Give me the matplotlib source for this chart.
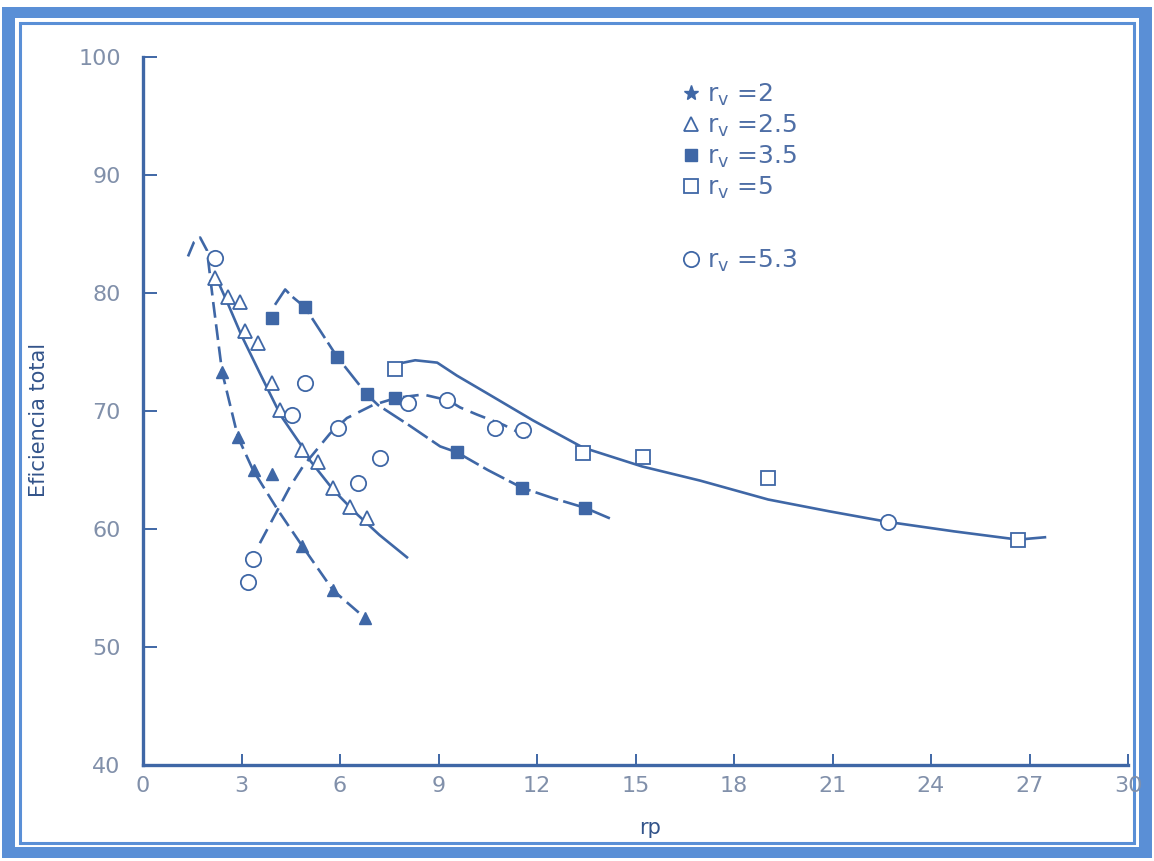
import matplotlib
matplotlib.use("Agg")
import matplotlib.pyplot as plt
from matplotlib.lines import Line2D
from matplotlib.patches import Rectangle

# values
rv2_x = [2.41, 2.89, 3.38, 3.93, 4.84, 5.79, 6.76]
rv2_y = [73.3, 67.8, 65.0, 64.7, 58.6, 54.8, 52.5]
rv2_curve_x = [1.37, 1.55, 1.74, 1.95, 2.13, 2.41, 2.89, 3.35, 3.66, 4.11, 4.84, 5.79, 6.91]
rv2_curve_y = [83.1, 84.3, 84.7, 83.6, 79.4, 73.3, 67.8, 65.0, 63.6, 61.6, 58.6, 54.8, 52.1]

rv25_x = [2.2, 2.6, 2.95, 3.1, 3.5, 3.93, 4.17, 4.84, 5.33, 5.79, 6.3, 6.82]
rv25_y = [81.3, 79.7, 79.2, 76.8, 75.8, 72.4, 70.1, 66.7, 65.7, 63.5, 61.9, 60.9]
rv25_curve_x = [2.2, 2.6, 3.0, 3.56, 4.2, 4.84, 5.09, 5.8, 6.5, 7.2, 8.04]
rv25_curve_y = [81.5, 79.0, 76.4, 73.2, 69.6, 67.0, 65.8, 63.3, 61.3, 59.5, 57.6]

rv35_x = [3.93, 4.93, 5.91, 6.82, 7.68, 9.56, 11.54, 13.46]
rv35_y = [77.9, 78.8, 74.6, 71.4, 71.1, 66.5, 63.5, 61.8]
rv35_curve_x = [4.02, 4.33, 4.54, 4.93, 5.91, 6.82, 7.16, 8.1, 9.05, 9.56, 10.5, 11.54, 12.5, 13.46, 14.22]
rv35_curve_y = [79.0, 80.3, 79.7, 78.8, 74.6, 71.4, 70.5, 68.8, 67.0, 66.5, 65.0, 63.5, 62.6, 61.8, 60.9]

rv5_x = [7.68, 13.4, 15.23, 19.04, 26.65]
rv5_y = [73.6, 66.4, 66.1, 64.3, 59.1]
rv5_curve_x = [7.58, 8.29, 8.96, 9.56, 10.48, 11.88, 13.4, 15.2, 16.97, 19.04, 20.9, 22.69, 24.7, 26.65, 27.47]
rv5_curve_y = [73.9, 74.3, 74.1, 73.0, 71.5, 69.2, 66.9, 65.3, 64.1, 62.5, 61.5, 60.6, 59.8, 59.1, 59.3]

rv53_x = [2.19, 3.2, 3.35, 4.54, 4.93, 5.94, 6.55, 7.22, 8.07, 9.26, 10.72, 11.57, 22.69]
rv53_y = [83.0, 55.5, 57.5, 69.7, 72.4, 68.6, 63.9, 66.0, 70.7, 70.9, 68.6, 68.4, 60.6]
rv53_curve_x = [3.56, 4.48, 4.87, 5.7, 6.21, 7.0, 7.7, 8.53, 9.3, 9.66, 10.17, 11.0, 11.79]
rv53_curve_y = [58.8, 63.6, 65.3, 68.1, 69.4, 70.5, 71.1, 71.4, 70.9, 70.3, 69.7, 68.8, 67.7]

x_ticks = [0, 3, 6, 9, 12, 15, 18, 21, 24, 27, 30]
y_ticks = [40, 50, 60, 70, 80, 90, 100]

blue = '#3f67a6'
tick_col = '#8190aa'
text_col = '#33548a'

fig = plt.figure(figsize=(11.54, 8.61), dpi=100)
W, H = 1154, 861

# picture frame (blue border as in the original slide)
fig.patches.append(Rectangle((2 / W, 1 - 858 / H), 1150 / W, 851 / H, transform=fig.transFigure,
                             facecolor='#5a8fd6', edgecolor='none', zorder=-3))
fig.patches.append(Rectangle((15 / W, 1 - 847 / H), 1124 / W, 829 / H, transform=fig.transFigure,
                             facecolor='white', edgecolor='none', zorder=-2))
fig.patches.append(Rectangle((20 / W, 1 - 843 / H), 1114 / W, 820 / H, transform=fig.transFigure,
                             facecolor='none', edgecolor='#5a8fd6', linewidth=2.2, zorder=-1))

ax = fig.add_axes([143 / W, 1 - 765 / H, 985 / W, 708 / H])
ax.patch.set_alpha(0)

lw = 1.9
ax.plot(rv2_curve_x, rv2_curve_y, color=blue, lw=lw, ls=(0, (6, 2.5)))
ax.plot(rv25_curve_x, rv25_curve_y, color=blue, lw=lw)
ax.plot(rv35_curve_x, rv35_curve_y, color=blue, lw=lw, ls=(0, (9, 2)))
ax.plot(rv5_curve_x, rv5_curve_y, color=blue, lw=lw)
ax.plot(rv53_curve_x, rv53_curve_y, color=blue, lw=lw, ls=(0, (6, 3)))

ms = 9
ax.plot(rv2_x, rv2_y, ls='none', marker='^', ms=ms, color=blue, mec=blue)
ax.plot(rv25_x, rv25_y, ls='none', marker='^', ms=ms + 1, mfc='white', mec=blue, mew=1.3)
ax.plot(rv35_x, rv35_y, ls='none', marker='s', ms=ms - 1, color=blue, mec=blue)
ax.plot(rv5_x, rv5_y, ls='none', marker='s', ms=ms + 1, mfc='white', mec=blue, mew=1.3)
ax.plot(rv53_x, rv53_y, ls='none', marker='o', ms=ms + 2, mfc='white', mec=blue, mew=1.3)

ax.set_xlim(0, 30)
ax.set_ylim(40, 100)
ax.set_xticks(x_ticks)
ax.set_yticks(y_ticks)
for s in ['top', 'right']:
    ax.spines[s].set_visible(False)
for s in ['left', 'bottom']:
    ax.spines[s].set_color(blue)
    ax.spines[s].set_linewidth(2.4)
ax.tick_params(axis='both', direction='in', color=blue, width=1.4, labelcolor=tick_col, labelsize=16)
ax.tick_params(axis='y', length=10, pad=16)
ax.tick_params(axis='x', length=8, pad=8)

ax.set_xlabel('rp', fontsize=15, color=text_col)
ax.xaxis.set_label_coords(0.515, -0.075)
ax.set_ylabel('Eficiencia total', fontsize=15, color=text_col)
ax.yaxis.set_label_coords(-0.095, 0.487)

handles = [
    Line2D([], [], ls='none', marker='*', ms=11, color=blue),
    Line2D([], [], ls='none', marker='^', ms=10, mfc='white', mec=blue, mew=1.3),
    Line2D([], [], ls='none', marker='s', ms=8, color=blue),
    Line2D([], [], ls='none', marker='s', ms=10, mfc='white', mec=blue, mew=1.3),
    Line2D([], [], ls='none'),
    Line2D([], [], ls='none', marker='o', ms=11, mfc='white', mec=blue, mew=1.3),
]
labels = [r'r$_\mathregular{v}$ =2', r'r$_\mathregular{v}$ =2.5', r'r$_\mathregular{v}$ =3.5',
          r'r$_\mathregular{v}$ =5', ' ', r'r$_\mathregular{v}$ =5.3']
leg = ax.legend(handles, labels, loc='upper left', bbox_to_anchor=(0.533, 0.983), frameon=False,
                fontsize=18, handlelength=0.8, handletextpad=0.25, labelspacing=0.2, borderpad=0)
for t in leg.get_texts():
    t.set_color('#4f6fa6')
leg.get_texts()[4].set_fontsize(27)

fig.savefig('out.png', dpi=100)
